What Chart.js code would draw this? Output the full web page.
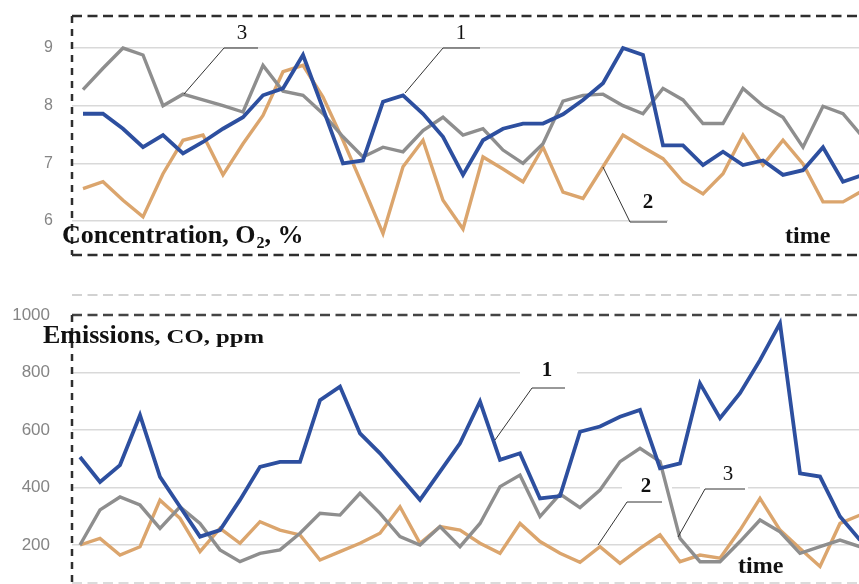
<!DOCTYPE html>
<html lang="en">
<head>
    <meta charset="UTF-8">
    <title>O2 concentration and CO emissions</title>
    <script src="https://cdn.jsdelivr.net/npm/chart.js"></script>
    <style>
        body {
            margin: 0;
            padding: 0;
            background: #fff;
        }
        .wrap {
            position: relative;
            width: 859px;
            height: 584px;
            overflow: hidden;
        }
        #o2Chart { position: absolute; left: 0; top: 0; }
        #coChart { position: absolute; left: 0; top: 270px; }
    </style>
</head>
<body>
<div class="wrap">
    <canvas id="o2Chart" width="859" height="270"></canvas>
    <canvas id="coChart" width="859" height="314"></canvas>
</div>
<script>
// time steps (x axis)
const timeSteps = [0, 1, 2, 3, 4, 5, 6, 7, 8, 9, 10, 11, 12, 13, 14, 15, 16, 17, 18, 19,
                   20, 21, 22, 23, 24, 25, 26, 27, 28, 29, 30, 31, 32, 33, 34, 35, 36, 37, 38, 39];

// O2 concentration, %  (curves 1, 2, 3)
const o2Curve1 = [7.86, 7.86, 7.6, 7.28, 7.49, 7.17, 7.37, 7.6, 7.8, 8.18, 8.3, 8.88, 7.95, 7.0, 7.05, 8.07, 8.18, 7.86, 7.46, 6.8,
                  7.4, 7.6, 7.69, 7.69, 7.85, 8.1, 8.39, 9.0, 8.88, 7.31, 7.31, 6.97, 7.2, 6.97, 7.05, 6.8, 6.88, 7.28, 6.68, 6.8];
const o2Curve2 = [6.56, 6.68, 6.36, 6.07, 6.82, 7.4, 7.49, 6.8, 7.34, 7.83, 8.59, 8.7, 8.15, 7.4, 6.6, 5.78, 6.94, 7.4, 6.36, 5.86,
                  7.11, 6.9, 6.68, 7.28, 6.5, 6.39, 6.94, 7.49, 7.28, 7.08, 6.68, 6.47, 6.82, 7.49, 6.97, 7.4, 6.99, 6.33, 6.33, 6.53];
const o2Curve3 = [8.28, 8.65, 9.0, 8.88, 8.0, 8.2, 8.1, 8.0, 7.89, 8.7, 8.25, 8.18, 7.86, 7.46, 7.11, 7.28, 7.2, 7.57, 7.8, 7.49,
                  7.6, 7.23, 7.0, 7.34, 8.08, 8.18, 8.2, 8.0, 7.86, 8.3, 8.1, 7.69, 7.69, 8.3, 8.0, 7.8, 7.28, 7.99, 7.86, 7.45];
const o2Ticks = [6, 7, 8, 9];

// CO emissions, ppm  (curves 1, 2, 3)
const coCurve1 = [506, 419, 478, 652, 437, 333, 229, 252, 357, 472, 489, 489, 704, 751, 588, 519, 438, 357, 455, 554,
                  699, 496, 519, 362, 370, 594, 612, 646, 670, 467, 484, 762, 641, 728, 843, 971, 449, 438, 299, 217];
const coCurve2 = [200, 223, 165, 194, 356, 293, 177, 258, 206, 281, 252, 235, 148, 177, 206, 241, 333, 206, 264, 252,
                  206, 171, 275, 212, 171, 140, 194, 136, 188, 235, 142, 165, 154, 252, 362, 252, 188, 125, 275, 304];
const coCurve3 = [200, 322, 367, 339, 258, 333, 275, 183, 142, 171, 183, 241, 310, 304, 380, 310, 229, 200, 264, 194,
                  275, 403, 443, 299, 377, 330, 391, 490, 536, 490, 223, 142, 142, 212, 287, 246, 171, 194, 217, 194];
const coTicks = [200, 400, 600, 800, 1000];

const BLUE = '#2d4f9f';
const ORANGE = '#dba56d';
const GRAY = '#8e8e8e';
const SERIF = '"Liberation Serif", "Times New Roman", serif';
const SANS = '"Liberation Sans", Arial, sans-serif';

const toPoints = (vals) => vals.map((v, i) => ({ x: timeSteps[i], y: v }));

const makeDatasets = (c1, c2, c3) => [
    { label: '1', data: toPoints(c1), borderColor: BLUE, borderWidth: 3.8 },
    { label: '3', data: toPoints(c3), borderColor: GRAY, borderWidth: 3.4 },
    { label: '2', data: toPoints(c2), borderColor: ORANGE, borderWidth: 3.4 }
];

const dashed = (ctx, pts, color, width, dash) => {
    ctx.save();
    ctx.strokeStyle = color;
    ctx.lineWidth = width;
    ctx.setLineDash(dash);
    ctx.beginPath();
    ctx.moveTo(pts[0][0], pts[0][1]);
    for (let k = 1; k < pts.length; k++) ctx.lineTo(pts[k][0], pts[k][1]);
    ctx.stroke();
    ctx.restore();
};

const leader = (ctx, pts) => dashed(ctx, pts, '#333', 1, []);

// draws text, optional horizontal stretch sx; returns drawn width
const text = (ctx, str, x, y, font, align, sx) => {
    sx = sx || 1;
    ctx.save();
    ctx.font = font;
    ctx.fillStyle = '#111';
    ctx.textAlign = align || 'left';
    ctx.textBaseline = 'alphabetic';
    ctx.translate(x, y);
    ctx.scale(sx, 1);
    ctx.fillText(str, 0, 0);
    const w = ctx.measureText(str).width * sx;
    ctx.restore();
    return w;
};

// common chart options
const makeOptions = (xMin, xMax, yMin, yMax, ticks, fontSize, tickPad, padding, hideTop) => ({
    responsive: false,
    animation: false,
    layout: { padding: padding },
    elements: { point: { radius: 0 }, line: { tension: 0, fill: false } },
    plugins: { legend: { display: false }, tooltip: { enabled: false } },
    scales: {
        x: { type: 'linear', min: xMin, max: xMax, display: false },
        y: {
            min: yMin,
            max: yMax,
            afterBuildTicks: (scale) => { scale.ticks = ticks.map(v => ({ value: v })); },
            afterFit: (scale) => {
                scale.width = 72;
                scale.paddingTop = 0;
                scale.paddingBottom = 0;
            },
            border: { display: false },
            grid: {
                drawTicks: false,
                lineWidth: 1.5,
                color: (c) => (hideTop && c.tick && c.tick.value === ticks[ticks.length - 1]) ? 'rgba(0,0,0,0)' : '#d9d9d9'
            },
            ticks: {
                color: '#858585',
                padding: tickPad,
                font: { family: SANS, size: fontSize },
                callback: (v) => String(v)
            }
        }
    }
});

// ---- top chart: O2 concentration ----
const o2Decor = {
    id: 'o2Decor',
    beforeDatasetsDraw(chart) {
        const ctx = chart.ctx;
        ctx.save();
        ctx.fillStyle = '#fff';
        ctx.fillRect(668, 214, 191, 14);
        ctx.restore();
    },
    afterDatasetsDraw(chart) {
        const ctx = chart.ctx;
        dashed(ctx, [[72, 16], [859, 16]], '#2e2e2e', 2.5, [10, 5.5]);
        dashed(ctx, [[72, 16], [72, 255]], '#2e2e2e', 2.5, [7, 6]);
        dashed(ctx, [[72, 255], [859, 255]], '#2e2e2e', 2.5, [10, 5.5]);

        leader(ctx, [[184, 94], [224, 48], [258, 48]]);
        leader(ctx, [[405, 93], [443, 48], [480, 48]]);
        leader(ctx, [[603, 167], [630, 222], [667, 222]]);

        text(ctx, '3', 242, 39, '21px ' + SERIF, 'center');
        text(ctx, '1', 461, 39, '21px ' + SERIF, 'center');
        text(ctx, '2', 648, 208, 'bold 21px ' + SERIF, 'center');

        let x = 62;
        x += text(ctx, 'Concentration, O', x, 243, 'bold 26px ' + SERIF);
        x += text(ctx, '2', x + 1, 248, 'bold 16px ' + SERIF) + 1;
        text(ctx, ', %', x, 243, 'bold 26px ' + SERIF);

        text(ctx, 'time', 785, 243, 'bold 24px ' + SERIF);
    }
};

new Chart(document.getElementById('o2Chart'), {
    type: 'line',
    data: { datasets: makeDatasets(o2Curve1, o2Curve2, o2Curve3) },
    options: makeOptions(-0.55, 38.8, 6 - 34 / 57.5, 9 + 32 / 57.5, o2Ticks, 16, 19,
                         { top: 16, bottom: 15, left: 0, right: 0 }, false),
    plugins: [o2Decor]
});

// ---- bottom chart: CO emissions ----
const coDecor = {
    id: 'coDecor',
    beforeDatasetsDraw(chart) {
        const ctx = chart.ctx;
        ctx.save();
        ctx.fillStyle = '#fff';
        ctx.fillRect(520, 90, 57, 26);
        ctx.fillRect(622, 200, 50, 28);
        ctx.fillRect(700, 190, 48, 32);
        ctx.restore();
    },
    afterDatasetsDraw(chart) {
        const ctx = chart.ctx;
        dashed(ctx, [[72, 25], [859, 25]], '#c4c4c4', 1.3, [10, 5.5]);
        dashed(ctx, [[72, 45], [859, 45]], '#444', 2.5, [10, 5.5]);
        dashed(ctx, [[72, 45], [72, 314]], '#2e2e2e', 2.5, [7, 6]);
        dashed(ctx, [[72, 313], [859, 313]], '#cfcfcf', 1.3, [10, 5.5]);

        leader(ctx, [[495, 170], [532, 118], [565, 118]]);
        leader(ctx, [[598, 275], [627, 232], [662, 232]]);
        leader(ctx, [[678, 267], [705, 219], [745, 219]]);

        text(ctx, '1', 547, 106, 'bold 21px ' + SERIF, 'center');
        text(ctx, '2', 646, 222, 'bold 21px ' + SERIF, 'center');
        text(ctx, '3', 728, 210, '21px ' + SERIF, 'center');

        let x = 43;
        x += text(ctx, 'Emissions', x, 73, 'bold 26px ' + SERIF);
        text(ctx, ', CO, ppm', x, 73, 'bold 19px ' + SERIF, 'left', 1.3);

        text(ctx, 'time', 738, 303, 'bold 24px ' + SERIF);
    }
};

new Chart(document.getElementById('coChart'), {
    type: 'line',
    data: { datasets: makeDatasets(coCurve1, coCurve2, coCurve3) },
    options: makeOptions(-0.4, 38.95, 1000 - 269 / 0.2875, 1000, coTicks, 17, 22,
                         { top: 45, bottom: 0, left: 0, right: 0 }, true),
    plugins: [coDecor]
});
</script>
</body>
</html>
